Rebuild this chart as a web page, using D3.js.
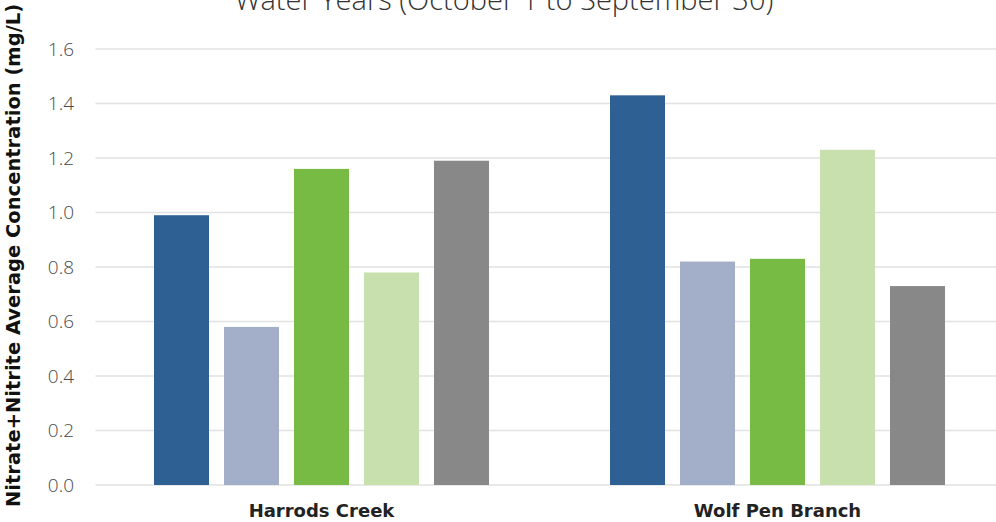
<!DOCTYPE html>
<html>
<head>
<meta charset="utf-8">
<script src="https://cdn.jsdelivr.net/npm/d3@7"></script>
<style>
  body { margin: 0; background: #fff; }
  svg { display: block; font-family: "Open Sans", "DejaVu Sans", sans-serif; }
</style>
</head>
<body>
<svg id="chart" width="996" height="522"></svg>
<script>
const sites = ["Harrods Creek", "Wolf Pen Branch"];
const series = ["s1", "s2", "s3", "s4", "s5"];
const colors = ["#2e6093", "#a3aec9", "#78bb44", "#c8e0ae", "#888888"];
const harrodsValues = [0.99, 0.58, 1.16, 0.78, 1.19];
const wolfPenValues = [1.43, 0.82, 0.83, 1.23, 0.73];
const yTicks = [0, 0.2, 0.4, 0.6, 0.8, 1.0, 1.2, 1.4, 1.6];

const values = [harrodsValues, wolfPenValues];
const data = sites.map((site, i) => ({
  site,
  bars: series.map((s, j) => ({ key: s, value: values[i][j], color: colors[j] }))
}));

const width = 996;
const margin = { top: 49, bottom: 37, left: 93.5 };
const plotRight = 1005.5; // plot runs past the window edge
const yBase = 522 - margin.bottom;

const svg = d3.select("#chart");

const x0 = d3.scaleBand().domain(sites).range([margin.left, plotRight]).padding(0);
const x1 = d3.scaleBand().domain(series)
  .range([60.5, x0.bandwidth() - 60.5])
  .paddingInner(15 / 70).paddingOuter(0);
const y = d3.scaleLinear().domain([0, 1.6]).range([yBase, margin.top]);

// gridlines
svg.append("g")
  .selectAll("line")
  .data(yTicks)
  .join("line")
  .attr("x1", margin.left + 2)
  .attr("x2", width)
  .attr("y1", d => y(d))
  .attr("y2", d => y(d))
  .attr("stroke", "#e2e2e2")
  .attr("stroke-width", 1.5);

// y tick labels
svg.append("g")
  .selectAll("text")
  .data(yTicks)
  .join("text")
  .attr("x", 74)
  .attr("y", d => y(d))
  .attr("dy", "0.36em")
  .attr("text-anchor", "end")
  .attr("fill", "#4a4a4a")
  .attr("font-size", 19)
  .attr("font-weight", 300)
  .text(d => d3.format(".1f")(d));

// bars
const groups = svg.append("g")
  .selectAll("g")
  .data(data)
  .join("g")
  .attr("transform", d => `translate(${x0(d.site)},0)`);

groups.selectAll("rect")
  .data(d => d.bars)
  .join("rect")
  .attr("x", d => x1(d.key))
  .attr("width", x1.bandwidth())
  .attr("y", d => y(d.value))
  .attr("height", d => yBase - y(d.value))
  .attr("fill", d => d.color);

// category labels
svg.append("g")
  .selectAll("text")
  .data(sites)
  .join("text")
  .attr("x", d => x0(d) + x0.bandwidth() / 2)
  .attr("y", 517)
  .attr("text-anchor", "middle")
  .attr("font-family", "'DejaVu Sans', sans-serif")
  .attr("font-size", 18)
  .attr("font-weight", "bold")
  .attr("fill", "#222")
  .text(d => d);

// y axis title
svg.append("text")
  .attr("transform", "translate(20,507) rotate(-90)")
  .attr("text-anchor", "start")
  .attr("font-family", "'DejaVu Sans', sans-serif")
  .attr("font-size", 19.5)
  .attr("font-weight", "bold")
  .attr("fill", "#111")
  .text("Nitrate+Nitrite Average Concentration (mg/L)");

// title (cropped at top)
svg.append("text")
  .attr("x", 504)
  .attr("y", 10)
  .attr("text-anchor", "middle")
  .attr("font-size", 29)
  .attr("font-weight", 300)
  .attr("fill", "#333")
  .text("Water Years (October 1 to September 30)");
</script>
</body>
</html>
